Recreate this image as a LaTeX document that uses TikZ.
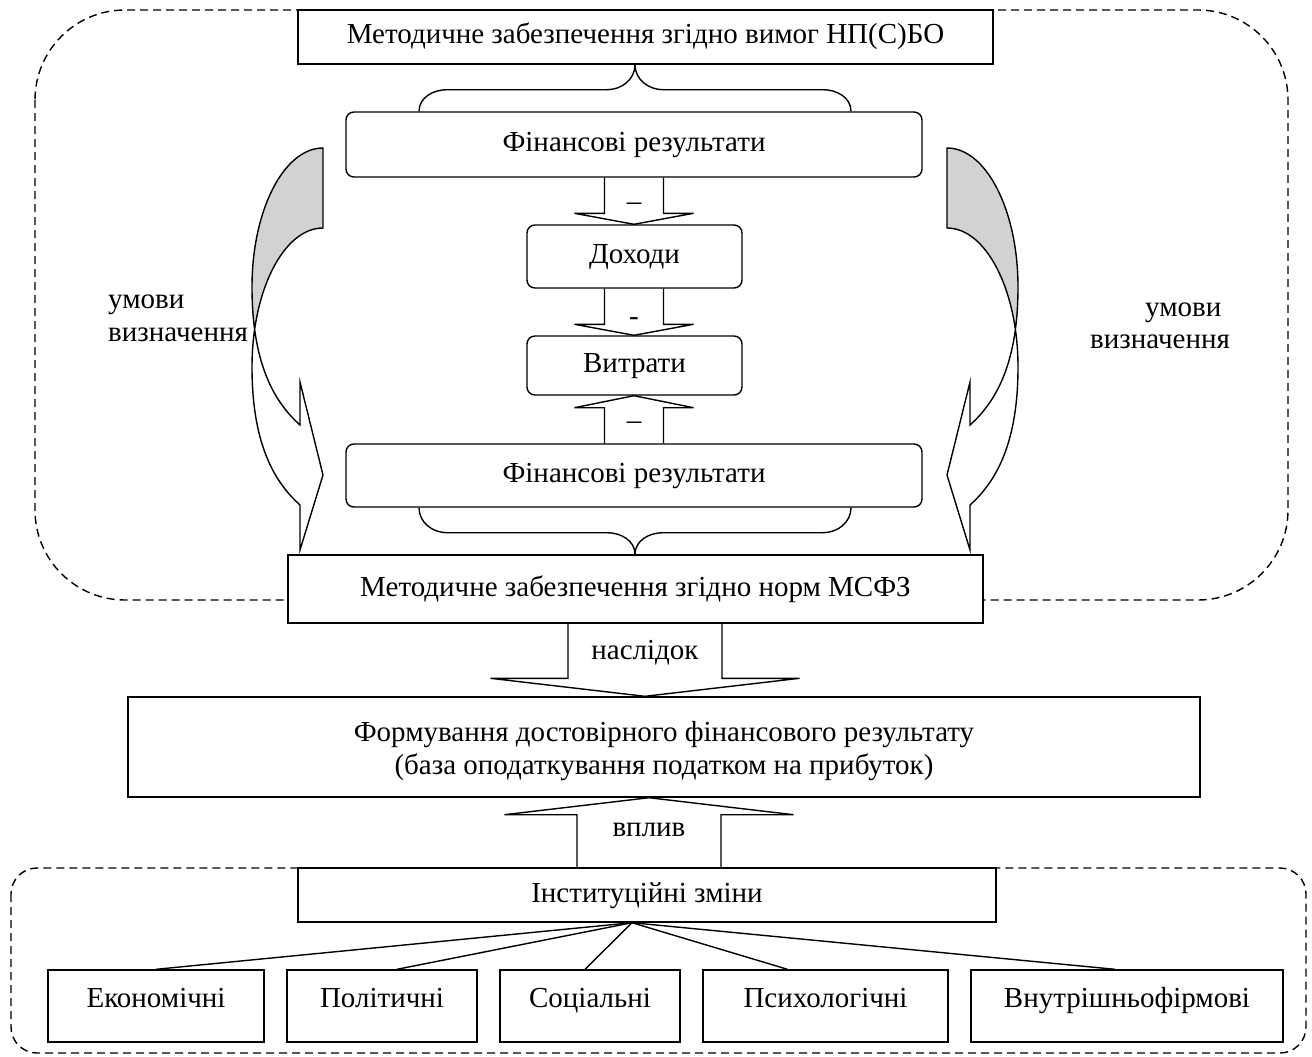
\documentclass[tikz,border=0pt]{standalone}
\usepackage{fontspec}
\setmainfont{Liberation Serif}
\usetikzlibrary{calc}
\pgfdeclarelayer{background}
\pgfsetlayers{background,main}

\tikzset{
  ln/.style={line width=1.4pt, line join=miter},
  box/.style={draw, line width=1.4pt, fill=white, inner sep=0pt,
              text height=20pt, text depth=6pt},
  rbox/.style={box, rounded corners=8pt},
  factor/.style={box, minimum height=72pt, text depth=18pt},
  frame/.style={draw, line width=1.4pt, dash pattern=on 8pt off 5pt},
  lbl/.style={inner sep=0pt, text height=20pt, text depth=6pt},
}

% block arrow: #1 axis coordinate, #2 tail anchor, #3 tip anchor,
% #4 half shaft width, #5 half head width, #6 head length (+ down, - up)
\newcommand\blockarrow[6]{%
  \draw[ln] ($(#1|-#2)+(-#4,0)$) -- ($(#1|-#3)+(-#4,-#6)$)
    -- ($(#1|-#3)+(-#5,-#6)$) -- (#1|-#3) -- ($(#1|-#3)+(#5,-#6)$)
    -- ($(#1|-#3)+(#4,-#6)$) -- ($(#1|-#2)+(#4,0)$);
}

% curved arrow beside the result boxes (drawn for the left side)
\newcommand\curvedarrow{%
  \begin{scope}
    \clip (323,148) .. controls (284,148) and (252,210) .. (252,287)
          .. controls (252,360) and (272,400) .. (300,425) -- (323,425) -- cycle;
    \fill[gray!35] (240,140) rectangle (323,430);
    \fill[white] (323,228) .. controls (284,228) and (252,290) .. (252,367)
          .. controls (252,440) and (272,480) .. (300,505) -- (323,505) -- cycle;
  \end{scope}
  \draw[ln] (323,148) .. controls (284,148) and (252,210) .. (252,287)
     .. controls (252,360) and (272,400) .. (300,425) -- (300,382)
     -- (323,475) -- (300,550) -- (300,505)
     .. controls (272,480) and (252,440) .. (252,367)
     .. controls (252,290) and (284,228) .. (323,228) -- cycle;
}

\begin{document}
\begin{tikzpicture}[x=1pt,y=-1pt,font=\fontsize{29}{33.5}\selectfont]
\useasboundingbox (0,0) rectangle (1312,1057);

% boxes
\node[box, minimum width=695pt, minimum height=54pt] (top) at (645.5,37)
  {Методичне забезпечення згідно вимог НП(С)БО};
\node[rbox, minimum width=576pt, minimum height=65pt] (fin1) at (634,144.5)
  {Фінансові результати};
\node[rbox, minimum width=215pt, minimum height=63pt] (doh) at (634.5,256.5)
  {Доходи};
\node[rbox, minimum width=215pt, minimum height=59pt] (vytr) at (634.5,365.5)
  {Витрати};
\node[rbox, minimum width=576pt, minimum height=63pt] (fin2) at (634,475.5)
  {Фінансові результати};
\node[box, minimum width=695pt, minimum height=68pt] (msfz) at (635.5,589)
  {Методичне забезпечення згідно норм МСФЗ};
\node[draw, line width=1.4pt, fill=white, inner sep=0pt,
      minimum width=1072pt, minimum height=100pt] (form) at (664,747) {};
\node[inner sep=0pt, align=center] (formtxt) at (664,751)
  {Формування достовірного фінансового результату\\
   (база оподаткування податком на прибуток)};
\node[box, minimum width=698pt, minimum height=54pt] (inst) at (647,895)
  {Інституційні зміни};

\node[factor, minimum width=216pt] (eco) at (156,1006) {Економічні};
\node[factor, minimum width=190pt] (pol) at (382,1006) {Політичні};
\node[factor, minimum width=180pt] (soc) at (590,1006) {Соціальні};
\node[factor, minimum width=245pt] (psy) at (825.5,1006) {Психологічні};
\node[factor, minimum width=312pt] (vnu) at (1127,1006) {Внутрішньофірмові};

% dashed groups
\begin{pgfonlayer}{background}
  \draw[frame, rounded corners=90pt] (35,10) rectangle (1288,600);
  \draw[frame, rounded corners=26pt] (11,868) rectangle (1306,1053);
\end{pgfonlayer}

% braces
\coordinate (brc) at (635,0);
\coordinate (bt) at (brc|-top.south);
\coordinate (btl) at ($(brc|-fin1.north)+(-216,0)$);
\coordinate (btr) at ($(brc|-fin1.north)+(216,0)$);
\draw[ln] (bt) to[out=-90,in=0] ++(-28,25) -- ++(-160,0) to[out=180,in=90] (btl);
\draw[ln] (bt) to[out=-90,in=180] ++(28,25) -- ++(160,0) to[out=0,in=90] (btr);

\coordinate (bb) at (brc|-msfz.north);
\coordinate (bbl) at ($(brc|-fin2.south)+(-216,0)$);
\coordinate (bbr) at ($(brc|-fin2.south)+(216,0)$);
\draw[ln] (bbl) to[out=-90,in=180] ++(28,25) -- ++(160,0) to[out=0,in=90] (bb);
\draw[ln] (bbr) to[out=-90,in=0] ++(-28,25) -- ++(-160,0) to[out=180,in=90] (bb);

% block arrows between the boxes
\coordinate (ax1) at (634,0);
\blockarrow{ax1}{fin1.south}{doh.north}{29.5}{59.5}{11}
\blockarrow{ax1}{doh.south}{vytr.north}{29.5}{59.5}{11}
\blockarrow{ax1}{fin2.north}{vytr.south}{29.5}{59.5}{-12}
\node[lbl] (m1) at (634,203) {–};
\node[lbl] (m2) at (634,318) {-};
\node[lbl] (m3) at (634,422) {–};

\coordinate (ax2) at (645,0);
\blockarrow{ax2}{msfz.south}{form.north}{77}{154.5}{18}
\node[lbl] (nasl) at (645,652) {наслідок};

\coordinate (ax3) at (649,0);
\blockarrow{ax3}{inst.north}{form.south}{72}{144.5}{-17}
\node[lbl] (vplyv) at (649,829) {вплив};

% curved arrows
\curvedarrow
\begin{scope}[shift={(1270,0)},xscale=-1]
  \curvedarrow
\end{scope}

\node[anchor=base west, inner sep=0pt] (ul1) at (108,308) {умови};
\node[anchor=base west, inner sep=0pt] (ul2) at (108,341) {визначення};
\node[anchor=base west, inner sep=0pt] (ur1) at (1145,316) {умови};
\node[anchor=base west, inner sep=0pt] (ur2) at (1090,348) {визначення};

% institutional factors
\coordinate (hub) at ([xshift=-15pt]inst.south);
\draw[ln] (hub) -- (eco.north);
\draw[ln] (hub) -- ([xshift=15pt]pol.north);
\draw[ln] (hub) -- ([xshift=-5pt]soc.north);
\draw[ln] (hub) -- ([xshift=-38pt]psy.north);
\draw[ln] (hub) -- ([xshift=-12pt]vnu.north);
\end{tikzpicture}
\end{document}
